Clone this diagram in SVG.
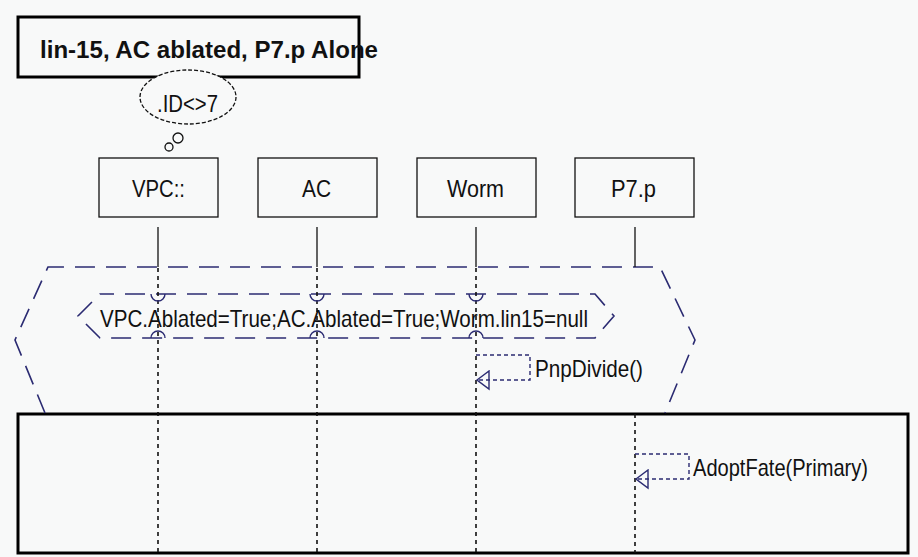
<svg xmlns="http://www.w3.org/2000/svg" width="918" height="557" viewBox="0 0 918 557">
  <style>
    text { font-family: "Liberation Sans", Arial, sans-serif; fill: #111; }
    .box { fill: none; stroke: #111; stroke-width: 1.3; }
    .heavy { fill: none; stroke: #000; stroke-width: 3; }
    .life { stroke: #111; stroke-width: 1.3; fill: none; }
    .dot { stroke: #111; stroke-width: 1.6; stroke-dasharray: 4 4; fill: none; }
    .frame { fill: none; stroke: #2b2b72; stroke-width: 1.6; stroke-dasharray: 20 11; }
    .hop { fill: none; stroke: #2b2b72; stroke-width: 1.4; }
    .self { fill: none; stroke: #2b2b72; stroke-width: 1.4; stroke-dasharray: 4 3; }
    .lbl { font-size: 24px; }
  </style>
  <defs>
    <!-- open triangle head, tip on the receiving lifeline -->
    <marker id="open" markerWidth="16" markerHeight="22" refX="1" refY="10" orient="0" markerUnits="userSpaceOnUse">
      <path d="M1,10 L13,1 L13,19 Z" fill="none" stroke="#2b2b72" stroke-width="1.4"/>
    </marker>
  </defs>
  <rect width="918" height="557" fill="#f8f9f9"/>

  <!-- title note -->
  <g id="title">
    <rect x="18" y="17" width="341" height="60" class="heavy"/>
    <text x="40" y="58" font-size="24" font-weight="bold" textLength="338" lengthAdjust="spacingAndGlyphs">lin-15, AC ablated, P7.p Alone</text>
  </g>

  <!-- guard thought bubble -->
  <g id="guard">
    <ellipse cx="188" cy="97" rx="48" ry="27" fill="#f8f9f9" stroke="#111" stroke-width="1.3" stroke-dasharray="4 2"/>
    <text x="157" y="112" class="lbl" textLength="61" lengthAdjust="spacingAndGlyphs">.ID&lt;&gt;7</text>
    <circle cx="178" cy="138" r="5" fill="none" stroke="#111" stroke-width="1.3"/>
    <circle cx="169" cy="147" r="4" fill="none" stroke="#111" stroke-width="1.3"/>
  </g>

  <!-- lifeline heads -->
  <g id="vpc">
    <rect x="99" y="158" width="119" height="59" class="box"/>
    <text x="132" y="197" class="lbl" textLength="53" lengthAdjust="spacingAndGlyphs">VPC::</text>
  </g>
  <g id="ac">
    <rect x="258" y="158" width="119" height="59" class="box"/>
    <text x="302" y="197" class="lbl" textLength="29" lengthAdjust="spacingAndGlyphs">AC</text>
  </g>
  <g id="worm">
    <rect x="417" y="158" width="119" height="59" class="box"/>
    <text x="447" y="197" class="lbl" textLength="57" lengthAdjust="spacingAndGlyphs">Worm</text>
  </g>
  <g id="p7p">
    <rect x="575" y="158" width="119" height="59" class="box"/>
    <text x="611" y="197" class="lbl" textLength="45" lengthAdjust="spacingAndGlyphs">P7.p</text>
  </g>

  <!-- lower combined region -->
  <g id="region">
    <rect x="18" y="414" width="890" height="139" class="heavy"/>
  </g>

  <!-- outer dashed frame -->
  <g id="frame">
    <path d="M45,413 L15,340 L48,267 L660,267 L695,340 L665,413" class="frame"/>
  </g>

  <!-- state invariant -->
  <g id="state">
    <path d="M100,294 L595,294 L614,316 L595,338 L100,338 L78,316 Z" class="frame" stroke-dashoffset="6"/>
    <text x="100" y="327" class="lbl" textLength="488" lengthAdjust="spacingAndGlyphs">VPC.Ablated=True;AC.Ablated=True;Worm.lin15=null</text>
  </g>

  <g id="connectors">
    <!-- solid lifeline stubs -->
    <line x1="158" y1="227" x2="158" y2="267" class="life"/>
    <line x1="317" y1="227" x2="317" y2="267" class="life"/>
    <line x1="476" y1="227" x2="476" y2="267" class="life"/>
    <line x1="635" y1="227" x2="635" y2="267" class="life"/>
    <!-- dotted lifelines -->
    <line x1="158" y1="268" x2="158" y2="553" class="dot"/>
    <line x1="317" y1="268" x2="317" y2="553" class="dot"/>
    <line x1="476" y1="268" x2="476" y2="553" class="dot"/>
    <line x1="635" y1="414" x2="635" y2="553" class="dot"/>
    <!-- line hops over lifelines -->
    <path d="M151,294 A7,7 0 0 0 165,294 M151,338 A7,7 0 0 1 165,338" class="hop"/>
    <path d="M310,294 A7,7 0 0 0 324,294 M310,338 A7,7 0 0 1 324,338" class="hop"/>
    <path d="M469,294 A7,7 0 0 0 483,294 M469,338 A7,7 0 0 1 483,338" class="hop"/>
    <!-- self messages -->
    <path d="M476,355 L530,355 L530,380 L477,380" class="self" marker-end="url(#open)"/>
    <path d="M635,454 L689,454 L689,479 L636,479" class="self" marker-end="url(#open)"/>
  </g>

  <text x="535" y="377" class="lbl" textLength="108" lengthAdjust="spacingAndGlyphs">PnpDivide()</text>
  <text x="693" y="476" class="lbl" textLength="175" lengthAdjust="spacingAndGlyphs">AdoptFate(Primary)</text>
</svg>
